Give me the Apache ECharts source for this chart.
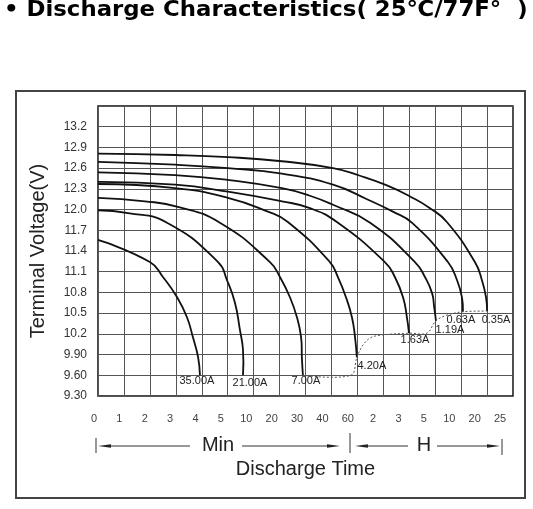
<!DOCTYPE html>
<html>
<head>
<meta charset="utf-8">
<script src="https://cdn.jsdelivr.net/npm/echarts@6/dist/echarts.min.js"></script>
<style>
  html, body { margin: 0; padding: 0; background: #fff; }
  #chart { width: 533px; height: 509px; }
</style>
</head>
<body>
<div id="chart"></div>
<script>
// x is measured in grid steps: 0 1 2 3 4 5 10 20 30 40 60 (min) | 2 3 5 10 20 25 (h)
var xTickLabels = ['0', '1', '2', '3', '4', '5', '10', '20', '30', '40', '60', '2', '3', '5', '10', '20', '25'];
var yTickLabels = ['9.30', '9.60', '9.90', '10.2', '10.5', '10.8', '11.1', '11.4', '11.7', '12.0', '12.3', '12.6', '12.9', '13.2', ''];

var currentNames = ['35.00A', '21.00A', '7.00A', '4.20A', '1.63A', '1.19A', '0.63A', '0.35A'];

// [time step, voltage]
var c35 = [[0, 11.56], [2.00, 11.24], [2.51, 11.02], [3.05, 10.73], [3.43, 10.44], [3.66, 10.15], [3.86, 9.86], [3.93, 9.60]];
var c21 = [[0, 11.99], [1.16, 11.95], [2.66, 11.81], [4.63, 11.24], [4.97, 10.98], [5.28, 10.65], [5.47, 10.26], [5.59, 9.97], [5.59, 9.60]];
var c7 = [[0, 12.17], [1.81, 12.12], [3.08, 12.04], [4.70, 11.81], [6.63, 11.24], [7.02, 11.02], [7.40, 10.73], [7.67, 10.44], [7.83, 10.15], [7.86, 9.86], [7.90, 9.60]];
var c4_20 = [[0, 12.37], [2.97, 12.31], [5.01, 12.17], [6.55, 11.97], [7.32, 11.82], [8.94, 11.24], [9.25, 11.02], [9.56, 10.73], [9.79, 10.44], [9.91, 10.15], [9.98, 9.86]];
var c1_63 = [[0, 12.40], [2.97, 12.36], [5.01, 12.26], [7.09, 12.12], [8.17, 12.02], [9.21, 11.82], [11.06, 11.24], [11.45, 11.02], [11.76, 10.73], [11.91, 10.44], [11.99, 10.21]];
var c1_19 = [[0, 12.54], [2.97, 12.50], [5.01, 12.43], [7.09, 12.31], [8.17, 12.20], [9.06, 12.07], [10.49, 11.81], [12.22, 11.24], [12.61, 11.02], [12.88, 10.79], [12.96, 10.59], [13.03, 10.39]];
var c0_63 = [[0, 12.69], [2.97, 12.65], [5.01, 12.60], [7.09, 12.52], [9.06, 12.36], [10.37, 12.15], [11.37, 11.97], [12.10, 11.81], [13.49, 11.24], [13.84, 10.98], [14.03, 10.73], [14.07, 10.52]];
var c0_35 = [[0, 12.81], [2.97, 12.79], [5.01, 12.76], [7.09, 12.70], [9.06, 12.60], [10.10, 12.49], [11.14, 12.35], [12.03, 12.19], [12.80, 12.02], [13.45, 11.82], [14.53, 11.24], [14.80, 10.98], [14.96, 10.73], [15.00, 10.53]];

// dotted end-of-discharge line
var cutoff = [[7.90, 9.60], [9.75, 9.60], [9.98, 9.86], [10.22, 10.04], [10.49, 10.14], [10.87, 10.18], [11.99, 10.21], [12.68, 10.21], [13.03, 10.39], [13.45, 10.47], [14.07, 10.52], [15.00, 10.53]];

var curves = [c35, c21, c7, c4_20, c1_63, c1_19, c0_63, c0_35];
var labelOffsets = [[-3, 6], [7, 8], [3, 6], [15, 9], [6, 7], [14, 9], [-2, 8], [9, 9]];

var chart = echarts.init(document.getElementById('chart'), null, { renderer: 'canvas' });

// one custom series per curve, the whole path is drawn on the first item
function curveSeries(pts, lineStyle, smooth, label, offset) {
  return {
    type: 'custom',
    coordinateSystem: 'cartesian2d',
    xAxisIndex: 0,
    yAxisIndex: 0,
    silent: true,
    z: 5,
    data: pts,
    renderItem: function (params, api) {
      if (params.dataIndex !== 0) return null;
      var coords = pts.map(function (p) { return api.coord(p); });
      var children = [{
        type: 'polyline',
        shape: { points: coords, smooth: smooth },
        style: lineStyle
      }];
      if (label) {
        var last = coords[coords.length - 1];
        children.push({
          type: 'text',
          x: last[0] + offset[0],
          y: last[1] + offset[1],
          style: {
            text: label,
            align: 'center',
            verticalAlign: 'middle',
            font: '11px "Liberation Sans"',
            fill: '#222'
          }
        });
      }
      return { type: 'group', children: children };
    }
  };
}

var series = curves.map(function (pts, k) {
  return curveSeries(pts, { stroke: '#111', lineWidth: 1.8, fill: null }, 0.5, currentNames[k], labelOffsets[k]);
});
series.push(curveSeries(cutoff, { stroke: '#555', lineWidth: 1, fill: null, lineDash: [2, 2] }, 0.35));

function arrowHead(tip, dir) {
  // dir: -1 points left, 1 points right
  var back = tip - dir * 13;
  return {
    type: 'polygon',
    shape: { points: [[tip, 446], [back, 444.2], [back, 447.8]] },
    style: { fill: '#222' }
  };
}
function seg(x1, y1, x2, y2) {
  return {
    type: 'line',
    shape: { x1: x1, y1: y1, x2: x2, y2: y2 },
    style: { stroke: '#333', lineWidth: 1 }
  };
}

var option = {
  animation: false,
  backgroundColor: '#fff',
  grid: [
    { left: 98, top: 106, width: 415, height: 290, show: true, borderColor: '#111', borderWidth: 1.5, backgroundColor: 'transparent' },
    { left: 94, top: 106, width: 406, height: 290, show: false }
  ],
  xAxis: [
    {
      gridIndex: 0,
      type: 'value',
      min: 0,
      max: 16,
      interval: 1,
      axisLine: { show: false },
      axisTick: { show: false },
      axisLabel: { show: false },
      splitLine: { show: true, lineStyle: { color: '#555', width: 1 } },
      name: 'Discharge Time',
      nameLocation: 'middle',
      nameGap: 63,
      nameTextStyle: { fontSize: 20, color: '#222', fontFamily: 'Liberation Sans' }
    },
    {
      gridIndex: 1,
      type: 'value',
      min: 0,
      max: 16,
      interval: 1,
      axisLine: { show: false },
      axisTick: { show: false },
      splitLine: { show: false },
      axisLabel: {
        margin: 17,
        fontSize: 11,
        color: '#444',
        fontFamily: 'Liberation Sans',
        showMinLabel: true,
        showMaxLabel: true,
        formatter: function (v) { return xTickLabels[Math.round(v)]; }
      }
    }
  ],
  yAxis: [
    {
      gridIndex: 0,
      type: 'value',
      min: 9.3,
      max: 13.5,
      interval: 0.3,
      axisLine: { show: false },
      axisTick: { show: false },
      splitLine: { show: true, lineStyle: { color: '#555', width: 1 } },
      axisLabel: {
        margin: 11,
        fontSize: 12,
        color: '#333',
        fontFamily: 'Liberation Sans',
        formatter: function (v) { return yTickLabels[Math.round((v - 9.3) / 0.3)]; }
      },
      name: 'Terminal Voltage(V)',
      nameLocation: 'middle',
      nameRotate: 90,
      nameGap: 50,
      nameTextStyle: { fontSize: 20, color: '#222', fontFamily: 'Liberation Sans' }
    },
    { gridIndex: 1, type: 'value', show: false, min: 0, max: 1 }
  ],
  graphic: [
    {
      type: 'rect',
      shape: { x: 16, y: 91, width: 509, height: 407 },
      style: { fill: 'none', stroke: '#444', lineWidth: 2 },
      z: 0
    },
    {
      type: 'text',
      x: 4,
      y: -1,
      scaleX: 1.037,
      style: {
        text: '• Discharge Characteristics( 25℃/77F°  )',
        font: 'bold 22px "DejaVu Sans"',
        fill: '#000'
      }
    },
    seg(96, 438, 96, 453),
    arrowHead(98, -1),
    seg(110, 446, 190, 446),
    {
      type: 'text',
      x: 218,
      y: 445,
      style: { text: 'Min', font: '20px "Liberation Sans"', fill: '#222', align: 'center', verticalAlign: 'middle' }
    },
    seg(242, 446, 328, 446),
    arrowHead(340, 1),
    seg(350, 433, 350, 453),
    arrowHead(355, -1),
    seg(367, 446, 408, 446),
    {
      type: 'text',
      x: 424,
      y: 445,
      style: { text: 'H', font: '20px "Liberation Sans"', fill: '#222', align: 'center', verticalAlign: 'middle' }
    },
    seg(437, 446, 489, 446),
    arrowHead(500, 1),
    seg(502, 439, 502, 455)
  ],
  series: series
};

chart.setOption(option);
</script>
</body>
</html>
